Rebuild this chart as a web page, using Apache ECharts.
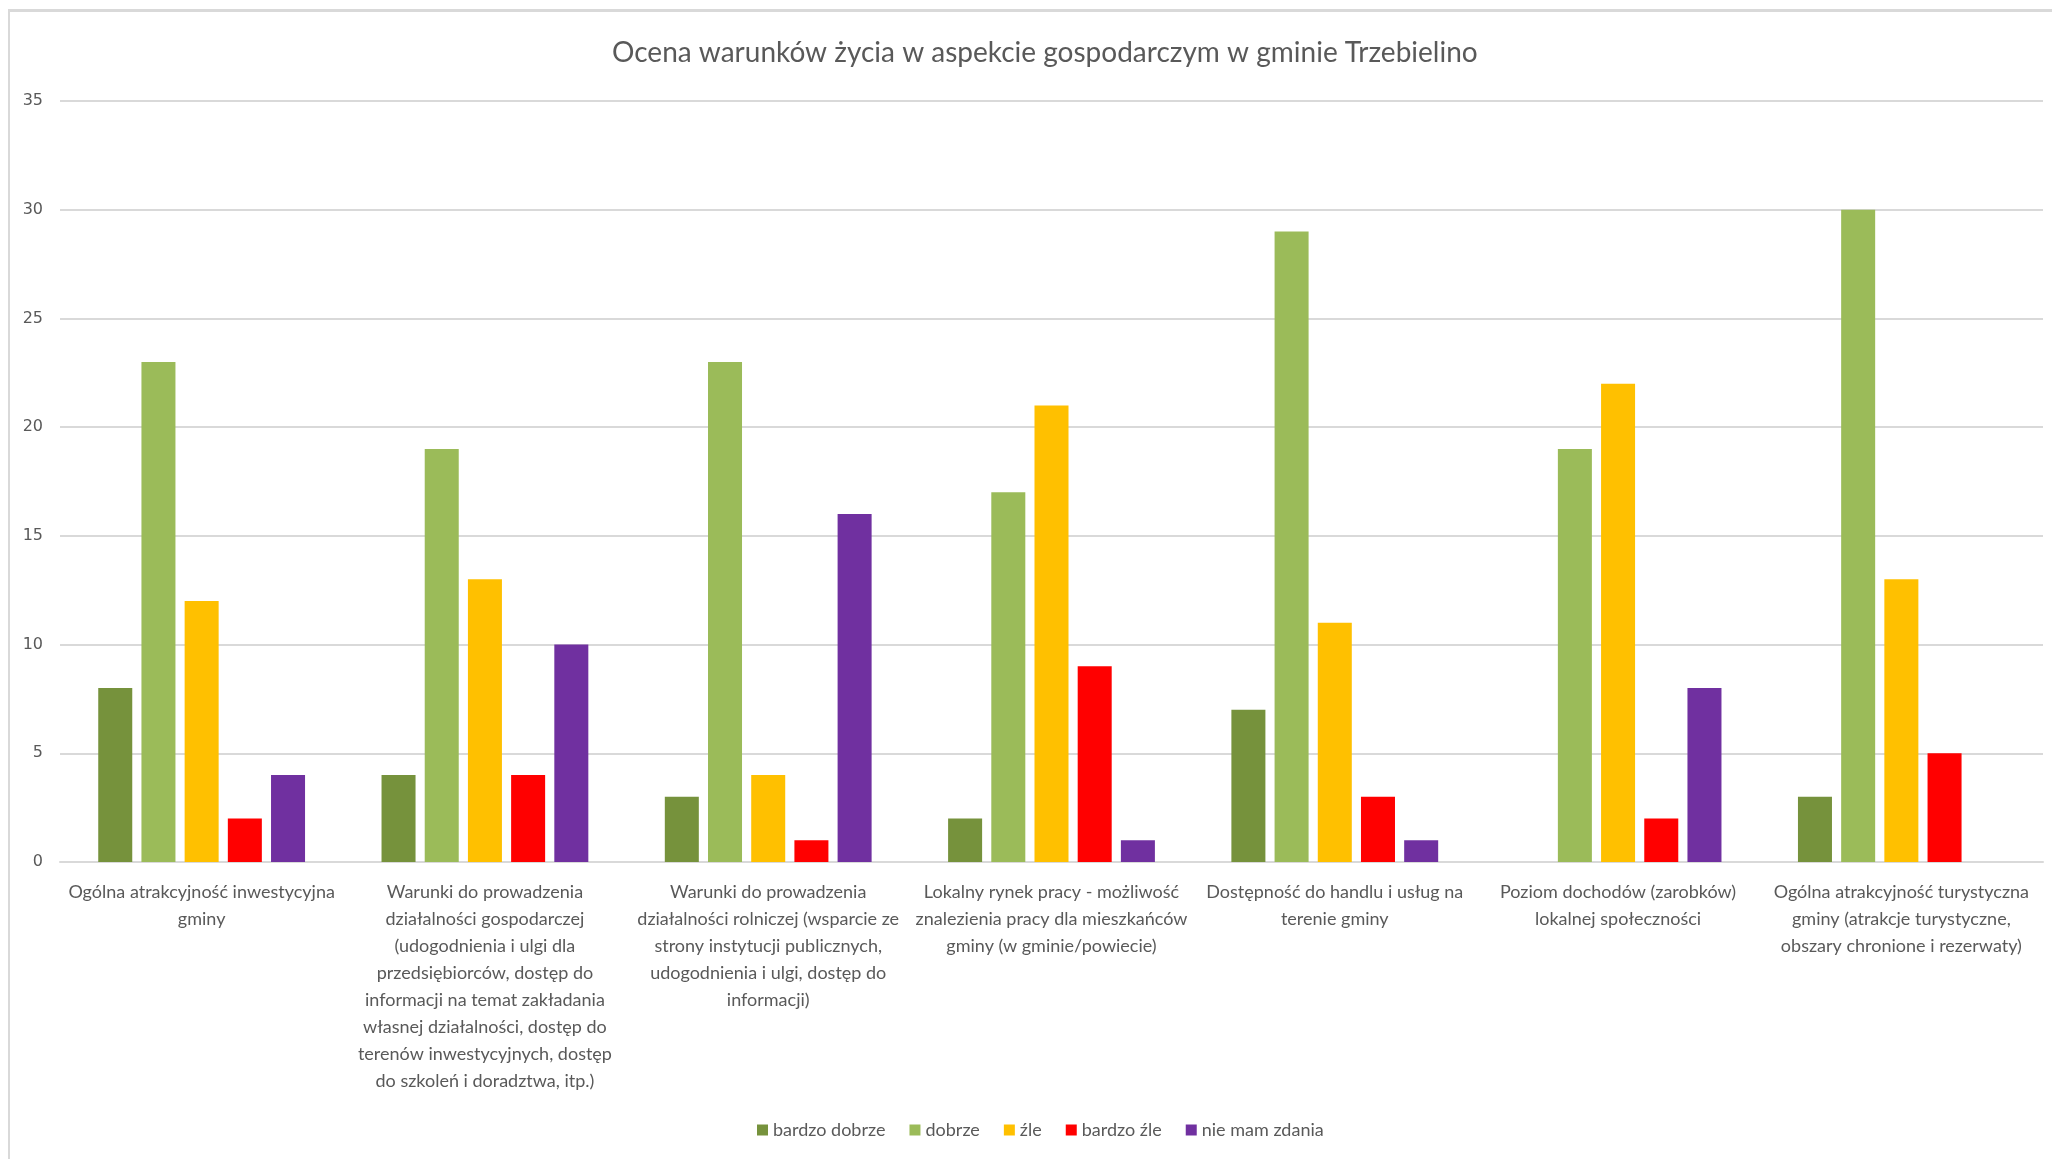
<!DOCTYPE html>
<html>
<head>
<meta charset="utf-8">
<script src="https://cdn.jsdelivr.net/npm/echarts@6/dist/echarts.min.js"></script>
<style>
  html, body { margin: 0; padding: 0; background: #fff; }
  #frame { position: absolute; left: 8px; top: 9px; width: 2060px; height: 1170px;
           border-left: 2px solid #d9d9d9; border-top: 3px solid #d9d9d9; }
  #chart { position: absolute; left: 0; top: 0; width: 2052px; height: 1159px; }
</style>
</head>
<body>
<div id="frame"></div>
<div id="chart"></div>
<script>
  // categories (line breaks as in the original labels)
  var categories = [
    'Ogólna atrakcyjność inwestycyjna\ngminy',
    'Warunki do prowadzenia\ndziałalności gospodarczej\n(udogodnienia i ulgi dla\nprzedsiębiorców, dostęp do\ninformacji na temat zakładania\nwłasnej działalności, dostęp do\nterenów inwestycyjnych, dostęp\ndo szkoleń i doradztwa, itp.)',
    'Warunki do prowadzenia\ndziałalności rolniczej (wsparcie ze\nstrony instytucji publicznych,\nudogodnienia i ulgi, dostęp do\ninformacji)',
    'Lokalny rynek pracy - możliwość\nznalezienia pracy dla mieszkańców\ngminy (w gminie/powiecie)',
    'Dostępność do handlu i usług na\nterenie gminy',
    'Poziom dochodów (zarobków)\nlokalnej społeczności',
    'Ogólna atrakcyjność turystyczna\ngminy (atrakcje turystyczne,\nobszary chronione i rezerwaty)'
  ];

  var seriesNames = ['bardzo dobrze', 'dobrze', 'źle', 'bardzo źle', 'nie mam zdania'];

  var bardzoDobrze = [8, 4, 3, 2, 7, 0, 3];
  var dobrze       = [23, 19, 23, 17, 29, 19, 30];
  var zle          = [12, 13, 4, 21, 11, 22, 13];
  var bardzoZle    = [2, 4, 1, 9, 3, 2, 5];
  var nieMamZdania = [4, 10, 16, 1, 1, 8, 0];

  var colors = ['#76923C', '#9BBB59', '#FFC000', '#FF0000', '#7030A0'];

  var chart = echarts.init(document.getElementById('chart'));

  var values = [bardzoDobrze, dobrze, zle, bardzoZle, nieMamZdania];
  var series = values.map(function (v, i) {
    return {
      name: seriesNames[i],
      type: 'bar',
      data: v,
      itemStyle: { color: colors[i] },
      barGap: '27%',
      barCategoryGap: '27%'
    };
  });

  chart.setOption({
    animation: false,
    title: {
      text: 'Ocena warunków życia w aspekcie gospodarczym w gminie Trzebielino',
      left: 607,
      top: 34,
      textStyle: { fontFamily: 'Lato', fontSize: 28, fontWeight: 'normal', color: '#595959' }
    },
    legend: {
      bottom: 15,
      left: 752,
      itemWidth: 11,
      itemHeight: 11,
      itemGap: 24,
      icon: 'rect',
      data: seriesNames,
      textStyle: { fontFamily: 'Lato', fontSize: 18, color: '#595959' }
    },
    grid: { left: 60, right: 9, top: 101, bottom: 297 },
    xAxis: {
      type: 'category',
      data: categories,
      axisLine: { lineStyle: { color: '#d9d9d9', width: 2 } },
      axisTick: { show: false },
      axisLabel: {
        interval: 0,
        margin: 17,
        fontFamily: 'Lato',
        fontSize: 18,
        lineHeight: 27,
        color: '#595959',
        align: 'center'
      }
    },
    yAxis: {
      type: 'value',
      min: 0,
      max: 35,
      interval: 5,
      axisLine: { show: false },
      axisTick: { show: false },
      splitLine: { lineStyle: { color: '#d9d9d9', width: 2 } },
      axisLabel: { fontFamily: 'DejaVu Sans', fontSize: 16, color: '#595959', margin: 17 }
    },
    series: series
  });

  window.addEventListener('resize', function () {
    chart.resize();
  });
</script>
</body>
</html>
